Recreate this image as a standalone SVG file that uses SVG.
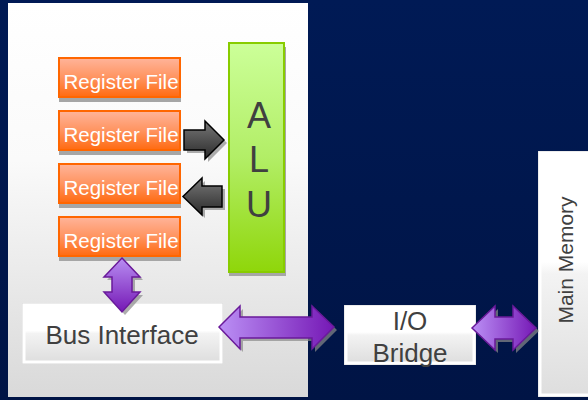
<svg xmlns="http://www.w3.org/2000/svg" width="588" height="400" viewBox="0 0 588 400">
<defs>
<linearGradient id="bg" x1="0" y1="0" x2="0" y2="1"><stop offset="0" stop-color="#001a55"/><stop offset="1" stop-color="#001445"/></linearGradient>
<linearGradient id="panel" x1="0" y1="0" x2="0" y2="1"><stop offset="0" stop-color="#ffffff"/><stop offset="0.4" stop-color="#fafafa"/><stop offset="1" stop-color="#d9d9d9"/></linearGradient>
<linearGradient id="reg" x1="0" y1="0" x2="0" y2="1"><stop offset="0" stop-color="#ffb49a"/><stop offset="0.5" stop-color="#ff9460"/><stop offset="1" stop-color="#ff6a10"/></linearGradient>
<linearGradient id="alu" x1="0" y1="0" x2="0" y2="1"><stop offset="0" stop-color="#ccff99"/><stop offset="0.5" stop-color="#b2ee66"/><stop offset="1" stop-color="#8fd60a"/></linearGradient>
<linearGradient id="box" x1="0" y1="0" x2="0" y2="1"><stop offset="0" stop-color="#ffffff"/><stop offset="0.45" stop-color="#ffffff"/><stop offset="0.5" stop-color="#f3f3f3"/><stop offset="1" stop-color="#dedede"/></linearGradient>
<linearGradient id="gray" x1="0" y1="0" x2="0" y2="1"><stop offset="0" stop-color="#777777"/><stop offset="1" stop-color="#2a2a2a"/></linearGradient>
<linearGradient id="purH" x1="0" y1="0" x2="1" y2="0"><stop offset="0" stop-color="#bb90f5"/><stop offset="1" stop-color="#7518b5"/></linearGradient>
<linearGradient id="purV" x1="0" y1="0" x2="0" y2="1"><stop offset="0" stop-color="#b88ef2"/><stop offset="1" stop-color="#7518b5"/></linearGradient>
<style>
.reg{fill:url(#reg);stroke:#ff6600;stroke-width:2}
.shadow{fill:#a6a6a6}
.regt{font-family:"Liberation Sans",Arial,sans-serif;font-size:20.5px;fill:#ffffff;text-anchor:middle}
.lbl{font-family:"Liberation Sans",Arial,sans-serif;fill:#404040;text-anchor:middle}
.wbox{fill:url(#box);stroke:#ffffff;stroke-width:3}
.wout{fill:none;stroke:#d8d8d8;stroke-width:1}
.garr{fill:url(#gray);stroke:#000000;stroke-width:1.5;stroke-linejoin:miter}
.ashadow{fill:#8a8a8a;opacity:0.7}
.parrH{fill:url(#purH);stroke:#6a1a9a;stroke-width:1.5}
.parrV{fill:url(#purV);stroke:#6a1a9a;stroke-width:1.5}
</style>
</defs>
<rect x="0" y="0" width="588" height="400" fill="url(#bg)"/>
<rect x="8" y="3" width="300" height="394" fill="url(#panel)"/>

<g id="reg1"><rect class="shadow" x="59" y="63" width="122" height="39"/><rect class="reg" x="59" y="58" width="121" height="39"/><text class="regt" x="121" y="89">Register File</text></g>
<g id="reg2"><rect class="shadow" x="59" y="116" width="122" height="39"/><rect class="reg" x="59" y="111" width="121" height="39"/><text class="regt" x="121" y="142">Register File</text></g>
<g id="reg3"><rect class="shadow" x="59" y="169" width="122" height="39"/><rect class="reg" x="59" y="164" width="121" height="39"/><text class="regt" x="121" y="195">Register File</text></g>
<g id="reg4"><rect class="shadow" x="59" y="222" width="122" height="39"/><rect class="reg" x="59" y="217" width="121" height="39"/><text class="regt" x="121" y="248">Register File</text></g>

<g id="alu"><rect class="shadow" x="229" y="47" width="57" height="229"/><rect x="229" y="43" width="55" height="229" fill="url(#alu)" stroke="#88cc00" stroke-width="2"/><text class="lbl" x="259" y="128" font-size="36">A</text><text class="lbl" x="259" y="172" font-size="36">L</text><text class="lbl" x="259" y="217" font-size="36">U</text></g>

<g id="bus"><rect class="wout" x="22.5" y="303.5" width="200" height="60"/><rect class="wbox" x="24" y="305" width="197" height="57"/><text class="lbl" x="122" y="344" font-size="26">Bus Interface</text></g>

<g id="bridge"><rect class="wout" x="344.5" y="305.5" width="131" height="59"/><rect class="wbox" x="346" y="307" width="128" height="56"/><text class="lbl" x="410" y="330" font-size="26">I/O</text><text class="lbl" x="410" y="362" font-size="26">Bridge</text></g>

<g id="memory"><rect class="wout" x="538.5" y="151.5" width="52" height="245"/><rect class="wbox" x="540" y="153" width="50" height="242"/><text class="lbl" font-size="21" transform="translate(573,260) rotate(-90)">Main Memory</text></g>

<g id="connectors">
<path class="ashadow" transform="translate(3,3)" d="M184,130 L205,130 L205,121 L224,140 L205,159 L205,150 L184,150 Z"/>
<path class="garr" d="M184,130 L205,130 L205,121 L224,140 L205,159 L205,150 L184,150 Z"/>
<path class="ashadow" transform="translate(3,3)" d="M222,186 L202,186 L202,178 L183,196.5 L202,215 L202,207 L222,207 Z"/>
<path class="garr" d="M222,186 L202,186 L202,178 L183,196.5 L202,215 L202,207 L222,207 Z"/>

<path class="ashadow" transform="translate(3,3)" d="M122,258 L140,277 L132,277 L132,292 L140,292 L122,312 L104,292 L112,292 L112,277 L104,277 Z"/>
<path class="parrV" d="M122,258 L140,277 L132,277 L132,292 L140,292 L122,312 L104,292 L112,292 L112,277 L104,277 Z"/>

<path class="ashadow" transform="translate(3,3)" d="M219,327 L240,306 L240,317 L312,317 L312,306 L334,327 L312,349 L312,338 L240,338 L240,349 Z"/>
<path class="parrH" d="M219,327 L240,306 L240,317 L312,317 L312,306 L334,327 L312,349 L312,338 L240,338 L240,349 Z"/>

<path class="ashadow" transform="translate(3,3)" d="M472,328 L495,306 L495,317 L513,317 L513,306 L536,328 L513,350 L513,339 L495,339 L495,350 Z"/>
<path class="parrH" d="M472,328 L495,306 L495,317 L513,317 L513,306 L536,328 L513,350 L513,339 L495,339 L495,350 Z"/>
</g>
</svg>
